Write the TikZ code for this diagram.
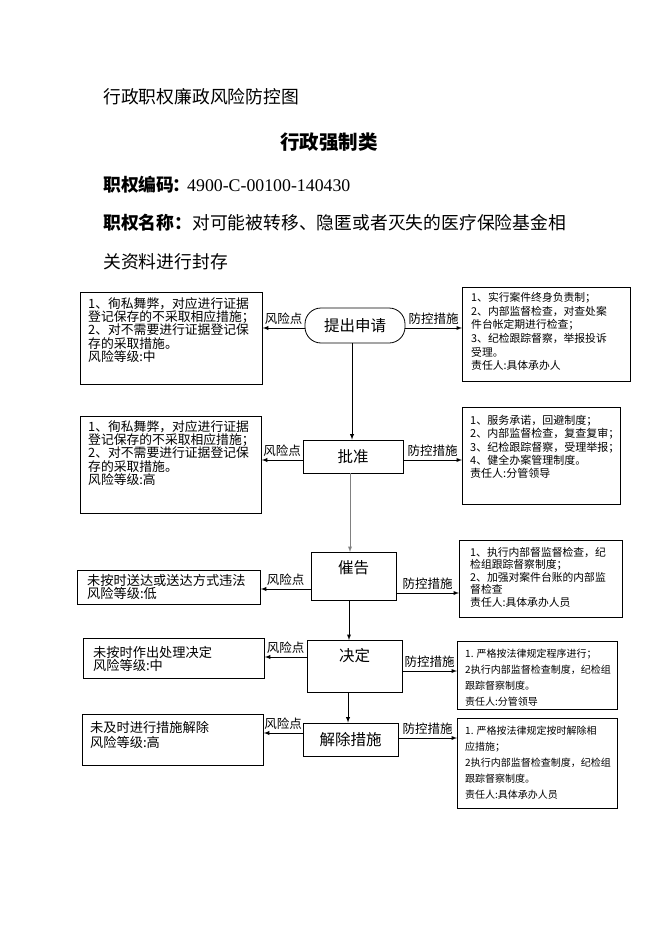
\documentclass[tikz,border=0pt]{standalone}
\usepackage{fontspec}
\setmainfont{Noto Sans CJK SC}
\newfontfamily\codefont{Liberation Serif}
\usetikzlibrary{arrows,positioning}

\tikzset{
  arr/.style={-latex,line width=0.9pt},
  riskbox/.style={draw,line width=0.8pt,anchor=north west,inner sep=0pt},
  boxtext/.style={anchor=north west,align=left,inner sep=0pt},
  stepnode/.style={draw,line width=0.8pt,inner sep=0pt,font=\fontsize{15.5}{16}\selectfont},
  lbl/.style={midway,above,inner sep=3.5pt,font=\fontsize{12.5}{13}\selectfont},
  headtext/.style={anchor=west,inner sep=0pt,font=\fontsize{17.8}{20}\selectfont}
}

\begin{document}
\begin{tikzpicture}[x=1pt,y=-1pt]
\useasboundingbox (0,0) rectangle (662,936);
% heading
\node[headtext] (head) at (103,97) {行政职权廉政风险防控图};
\node[inner sep=0pt,font=\fontsize{19.5}{20}\selectfont\bfseries] (kind) at (329,142) {行政强制类};
\node[headtext] (code) at (103,185) {\textbf{职权编码}\kern-2pt\textbf{：}\kern-3pt{\codefont 4900-C-00100-140430}};
\node[headtext] (name) at (103,223) {\textbf{职权名称：}对可能被转移、隐匿或者灭失的医疗保险基金相};
\node[headtext] (name2) at (103,262) {关资料进行封存};
% steps
\node[stepnode,rounded corners=16pt,minimum width=100pt,minimum height=35pt] (start) at (355,325.5) {提出申请};
\node[stepnode,minimum width=100pt,minimum height=33pt] (approve) at (353,456.5) {批准};
\node[stepnode,minimum width=85pt,text height=21pt,text depth=27pt,anchor=north] (urge) at (353.5,552) {催告};
\node[stepnode,minimum width=95pt,text height=21pt,text depth=31pt,anchor=north] (decide) at (354.5,640) {决定};
\node[stepnode,minimum width=95pt,minimum height=33pt] (lift) at (350.5,739.5) {解除措施};
% risk boxes
\node[riskbox,minimum width=182pt,minimum height=92pt] (L1) at (80,292) {};
\node[riskbox,minimum width=181pt,minimum height=97pt] (L2) at (80,416) {};
\node[riskbox,minimum width=183pt,minimum height=34pt] (L3) at (77,570) {};
\node[riskbox,minimum width=181pt,minimum height=40pt] (L4) at (83,638) {};
\node[riskbox,minimum width=181pt,minimum height=51pt] (L5) at (82,714) {};
% measure boxes
\node[riskbox,minimum width=168pt,minimum height=94pt] (R1) at (462,287) {};
\node[riskbox,minimum width=158pt,minimum height=97pt] (R2) at (462,407) {};
\node[riskbox,minimum width=163pt,minimum height=77pt] (R3) at (459,540) {};
\node[riskbox,minimum width=160pt,minimum height=68pt] (R4) at (457,641) {};
\node[riskbox,minimum width=160pt,minimum height=90pt] (R5) at (457,718) {};
% box texts
\node[boxtext,font=\fontsize{12.8}{13.4}\selectfont] (L1t) at ([shift={(8,5)}]L1.north west)
  {1、徇私舞弊，对应进行证据\\登记保存的不采取相应措施；\\2、对不需要进行证据登记保\\存的采取措施。\\风险等级:中};
\node[boxtext,font=\fontsize{12.8}{13.4}\selectfont] (L2t) at ([shift={(8,4)}]L2.north west)
  {1、徇私舞弊，对应进行证据\\登记保存的不采取相应措施；\\2、对不需要进行证据登记保\\存的采取措施。\\风险等级:高};
\node[boxtext,font=\fontsize{13.2}{13.3}\selectfont] (L3t) at ([shift={(10,4)}]L3.north west)
  {未按时送达或送达方式违法\\风险等级:低};
\node[boxtext,font=\fontsize{13.2}{13.3}\selectfont] (L4t) at ([shift={(10,8)}]L4.north west)
  {未按时作出处理决定\\风险等级:中};
\node[boxtext,font=\fontsize{13.2}{15}\selectfont] (L5t) at ([shift={(8,7)}]L5.north west)
  {未及时进行措施解除\\风险等级:高};
\node[boxtext,font=\fontsize{10.8}{13.7}\selectfont] (R1t) at ([shift={(9,5)}]R1.north west)
  {1、实行案件终身负责制；\\2、内部监督检查，对查处案\\件台帐定期进行检查；\\3、纪检跟踪督察，举报投诉\\受理。\\责任人:具体承办人};
\node[boxtext,font=\fontsize{11}{13.3}\selectfont] (R2t) at ([shift={(8,8)}]R2.north west)
  {1、服务承诺，回避制度；\\2、内部监督检查，复查复审；\\3、纪检跟踪督察，受理举报；\\4、健全办案管理制度。\\责任人:分管领导};
\node[boxtext,font=\fontsize{10.8}{12.5}\selectfont] (R3t) at ([shift={(11,7)}]R3.north west)
  {1、执行内部督监督检查，纪\\检组跟踪督察制度；\\2、加强对案件台账的内部监\\督检查\\责任人:具体承办人员};
\node[boxtext,font=\fontsize{10}{16}\selectfont] (R4t) at ([shift={(8,8)}]R4.north west)
  {1. 严格按法律规定程序进行；\\2执行内部监督检查制度，纪检组\\跟踪督察制度。\\责任人:分管领导};
\node[boxtext,font=\fontsize{10}{16}\selectfont] (R5t) at ([shift={(8,8)}]R5.north west)
  {1. 严格按法律规定按时解除相\\应措施；\\2执行内部监督检查制度，纪检组\\跟踪督察制度。\\责任人:具体承办人员};
% flow
\draw[arr] (start.south -| 352,0) -- (approve.north -| 352,0);
\draw[arr,gray] (approve.south -| 350,0) -- (urge.north -| 350,0);
\draw[arr] (urge.south -| 349,0) -- (decide.north -| 349,0);
\draw[arr] (decide.south -| 348,0) -- (lift.north -| 348,0);
% risk points and measures
\draw[arr] (start.west |- 0,328) -- (L1.east |- 0,328) node[lbl]{风险点};
\draw[arr] (start.east |- 0,328) -- (R1.west |- 0,328) node[lbl]{防控措施};
\draw[arr] (approve.west |- 0,460) -- (L2.east |- 0,460) node[lbl]{风险点};
\draw[arr] (approve.east |- 0,460) -- (R2.west |- 0,460) node[lbl]{防控措施};
\draw[arr] (urge.west |- 0,589) -- (L3.east |- 0,589) node[lbl]{风险点};
\draw[arr] (urge.east |- 0,593) -- (R3.west |- 0,593) node[lbl]{防控措施};
\draw[arr] (decide.west |- 0,657) -- (L4.east |- 0,657) node[lbl]{风险点};
\draw[arr] (decide.east |- 0,671) -- (R4.west |- 0,671) node[lbl]{防控措施};
\draw[arr] (lift.west |- 0,733) -- (L5.east |- 0,733) node[lbl]{风险点};
\draw[arr] (lift.east |- 0,738) -- (R5.west |- 0,738) node[lbl]{防控措施};
\end{tikzpicture}
\end{document}
